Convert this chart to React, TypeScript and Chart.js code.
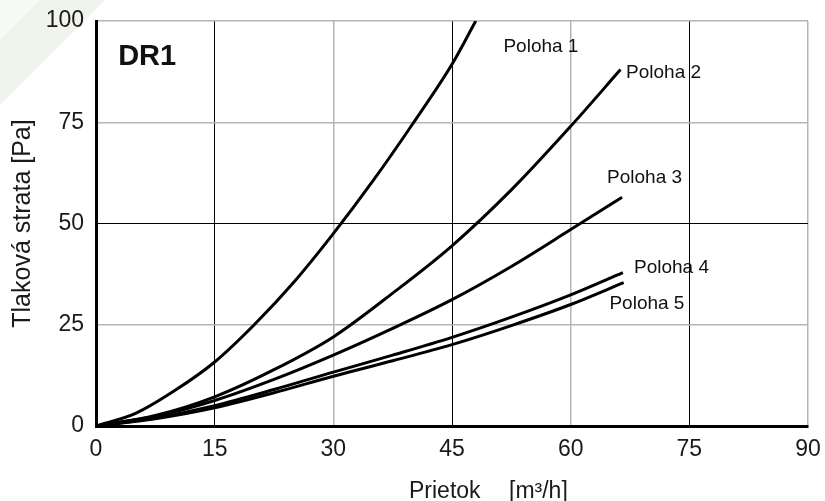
import { useEffect, useRef } from 'react';
import { Chart, registerables } from 'chart.js';

Chart.register(...registerables);

// ---- data ----
const xTicks = [0, 15, 30, 45, 60, 75, 90];
const yTicks = [0, 25, 50, 75, 100];

const seriesNames = ['Poloha 1', 'Poloha 2', 'Poloha 3', 'Poloha 4', 'Poloha 5'];

const poloha1X = [0, 5, 10, 15, 20, 25, 30, 35, 40, 45, 48];
const poloha1Y = [0, 3.1, 8.8, 15.8, 25, 35.5, 47.5, 60.5, 74.5, 89.3, 100];

const poloha2X = [0, 7.5, 15, 22.5, 30, 37.5, 45, 52.5, 60, 66.3];
const poloha2Y = [0, 2.6, 7.2, 13.9, 22, 32.8, 44.5, 58.3, 74, 88];

const poloha3X = [0, 7.5, 15, 22.5, 30, 37.5, 45, 52.5, 60, 66.5];
const poloha3Y = [0, 2.4, 6.3, 11.5, 17.5, 24.1, 31.2, 39.4, 48.5, 56.5];

const poloha4X = [0, 7.5, 15, 22.5, 30, 37.5, 45, 52.5, 60, 66.6];
const poloha4Y = [0, 2.0, 5.0, 9.0, 13.3, 17.5, 21.9, 26.9, 32.4, 37.9];

const poloha5X = [0, 7.5, 15, 22.5, 30, 37.5, 45, 52.5, 60, 66.7];
const poloha5Y = [0, 1.8, 4.5, 8.2, 12.3, 16.1, 20.1, 24.8, 30.0, 35.4];

const allX = [poloha1X, poloha2X, poloha3X, poloha4X, poloha5X];
const allY = [poloha1Y, poloha2Y, poloha3Y, poloha4Y, poloha5Y];

// label anchors (data coordinates, left edge / vertical middle)
const labelAnchorX = [51.5, 67.0, 64.6, 68.0, 64.9];
const labelAnchorY = [93.7, 87.1, 61.3, 39.1, 30.1];

const FONT = '"Liberation Sans", Arial, sans-serif';

const decorPlugin = {
  id: 'decor',
  beforeDraw(chart: any) {
    const ctx = chart.ctx;
    ctx.save();
    ctx.fillStyle = '#f0f4ea';
    ctx.beginPath();
    ctx.moveTo(0, 0);
    ctx.lineTo(105, 0);
    ctx.lineTo(0, 105);
    ctx.closePath();
    ctx.fill();
    ctx.fillStyle = '#f8faf5';
    ctx.beginPath();
    ctx.moveTo(0, 0);
    ctx.lineTo(40, 0);
    ctx.lineTo(0, 40);
    ctx.closePath();
    ctx.fill();
    ctx.restore();
  },
  afterDatasetsDraw(chart: any) {
    const ctx = chart.ctx;
    const xs = chart.scales.x;
    const ys = chart.scales.y;
    ctx.save();
    ctx.fillStyle = '#111';
    ctx.textBaseline = 'middle';
    ctx.textAlign = 'left';
    ctx.font = `19px ${FONT}`;
    seriesNames.forEach((name, i) => {
      ctx.fillText(name, xs.getPixelForValue(labelAnchorX[i]), ys.getPixelForValue(labelAnchorY[i]));
    });
    ctx.font = `bold 29px ${FONT}`;
    ctx.fillText('DR1', xs.getPixelForValue(2.8), ys.getPixelForValue(91));
    ctx.font = `23px ${FONT}`;
    ctx.textBaseline = 'alphabetic';
    ctx.fillStyle = '#1a1a1a';
    ctx.fillText('Prietok', 409, 498);
    ctx.fillText('[m³/h]', 509, 498);
    ctx.restore();
  },
};

export default function App() {
  const ref = useRef<HTMLCanvasElement | null>(null);

  useEffect(() => {
    if (!ref.current) return;
    const datasets = seriesNames.map((name, i) => ({
      label: name,
      data: allX[i].map((x, j) => ({ x, y: allY[i][j] })),
      borderColor: '#000',
      borderWidth: 3,
      pointRadius: 0,
      fill: false,
      cubicInterpolationMode: 'monotone' as const,
    }));

    const chart = new Chart(ref.current, {
      type: 'line',
      data: { datasets },
      plugins: [decorPlugin],
      options: {
        animation: false,
        responsive: true,
        maintainAspectRatio: false,
        layout: { padding: { top: 21, right: 17, left: 0, bottom: 0 } },
        plugins: { legend: { display: false }, tooltip: { enabled: false } },
        scales: {
          x: {
            type: 'linear',
            min: 0,
            max: 90,
            afterBuildTicks: (s: any) => {
              s.ticks = xTicks.map((v) => ({ value: v }));
            },
            afterFit: (s: any) => {
              s.height = 75;
              s.paddingLeft = 0;
              s.paddingRight = 0;
            },
            ticks: {
              font: { family: FONT, size: 23 },
              color: '#1a1a1a',
              padding: 10,
              maxRotation: 0,
            },
            grid: {
              drawTicks: false,
              color: (c: any) => (c.tick && c.tick.value % 30 === 15 ? '#000' : '#b5b5b5'),
              lineWidth: (c: any) => (c.tick && c.tick.value % 30 === 15 ? 1 : 1.5),
            },
            border: { display: true, color: '#000', width: 3 },
          },
          y: {
            type: 'linear',
            min: 0,
            max: 100,
            afterBuildTicks: (s: any) => {
              s.ticks = yTicks.map((v) => ({ value: v }));
            },
            afterFit: (s: any) => {
              s.width = 96;
              s.paddingTop = 0;
              s.paddingBottom = 0;
            },
            ticks: {
              font: { family: FONT, size: 23 },
              color: '#1a1a1a',
              padding: 12,
            },
            grid: {
              drawTicks: false,
              color: (c: any) => (c.tick && c.tick.value === 50 ? '#000' : '#b5b5b5'),
              lineWidth: (c: any) => (c.tick && c.tick.value === 50 ? 1 : 1.5),
            },
            border: { display: true, color: '#000', width: 3 },
            title: {
              display: true,
              text: 'Tlaková strata [Pa]',
              font: { family: FONT, size: 25 },
              color: '#1a1a1a',
              padding: { top: 8, bottom: 0 },
            },
          },
        },
      },
    });
    return () => chart.destroy();
  }, []);

  return (
    <div style={{ position: 'fixed', left: 0, top: 0, width: 825, height: 501, background: '#fff' }}>
      <canvas ref={ref} />
    </div>
  );
}
